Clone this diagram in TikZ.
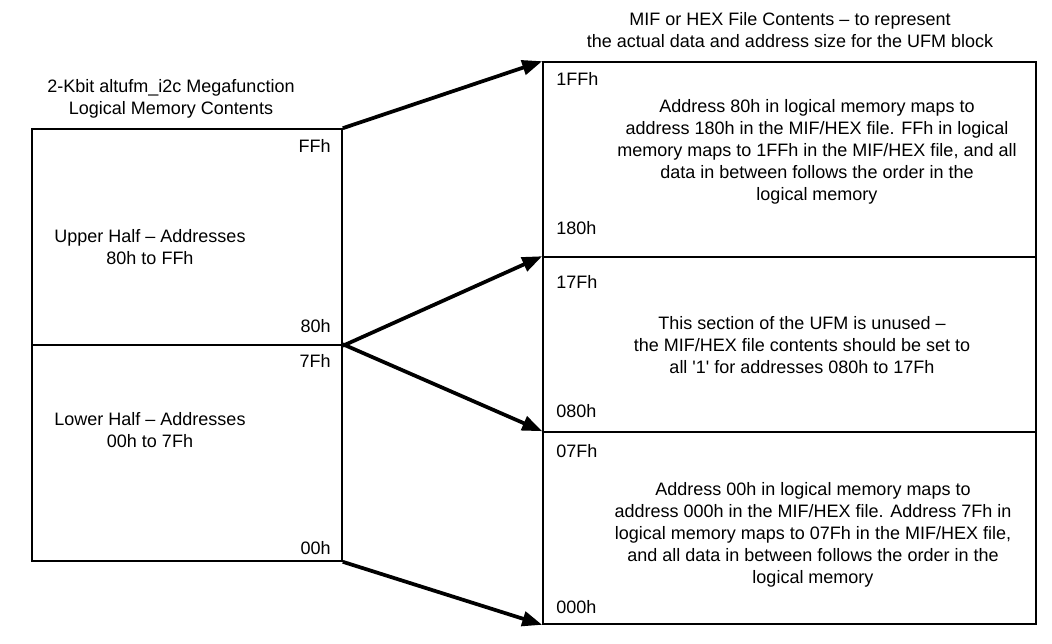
\documentclass[tikz,border=0pt]{standalone}
\usepackage{fontspec}
\setmainfont{Liberation Sans}
\usetikzlibrary{arrows.meta,positioning,fit,calc}

\begin{document}
\begin{tikzpicture}[x=0.75pt,y=-0.75pt,font=\fontsize{13.5}{16.5}\selectfont,
  mem block/.style={draw,line width=1.2pt,inner sep=0pt},
  addr/.style={inner sep=0pt},
  note/.style={align=center,inner sep=0pt},
  map arrow/.style={line width=2.8pt,-{Triangle[length=15pt,width=11pt]}}]
\useasboundingbox (0,0) rectangle (1052,643);
% logical memory (left) and UFM file layout (right)
\begin{scope}
\node[mem block,fit={(32,129) (342,345)}] (upper) {};
\node[mem block,fit={(32,345) (342,561)}] (lower) {};
\node[mem block,fit={(543,62) (1036,257)}] (ufmtop) {};
\node[mem block,fit={(543,257) (1036,432)}] (ufmmid) {};
\node[mem block,fit={(543,432) (1036,624)}] (ufmbot) {};
\end{scope}
\begin{scope}
\node[note] (lefttitle) at (171,99) {2-Kbit altufm\_i2c Megafunction\\Logical Memory Contents};
\node[note] (righttitle) at (790,30) {MIF or HEX File Contents -- to represent\\the actual data and address size for the UFM block};
\node[addr,anchor=east] (aFF) at ($(upper.north east)+(-12,18)$) {FFh};
\node[addr,anchor=east] (a80) at ($(upper.south east)+(-12,-20)$) {80h};
\node[addr,anchor=east] (a7F) at ($(lower.north east)+(-12,17)$) {7Fh};
\node[addr,anchor=east] (a00) at ($(lower.south east)+(-12,-14)$) {00h};
\node[note] (uppertxt) at (150,247) {Upper Half -- Addresses\\80h to FFh};
\node[note] (lowertxt) at (150,430) {Lower Half -- Addresses\\00h to 7Fh};
\node[addr,anchor=west] (f1FF) at ($(ufmtop.north west)+(14,18)$) {1FFh};
\node[addr,anchor=west] (f180) at ($(ufmtop.south west)+(14,-30)$) {180h};
\node[addr,anchor=west] (f17F) at ($(ufmmid.north west)+(14,26)$) {17Fh};
\node[addr,anchor=west] (f080) at ($(ufmmid.south west)+(14,-22)$) {080h};
\node[addr,anchor=west] (f07F) at ($(ufmbot.north west)+(14,20)$) {07Fh};
\node[addr,anchor=west] (f000) at ($(ufmbot.south west)+(14,-18)$) {000h};
\node[note] (toptxt) at (817,152) {Address 80h in logical memory maps to\\address 180h in the MIF/HEX file. FFh in logical\\memory maps to 1FFh in the MIF/HEX file, and all\\data in between follows the order in the\\logical memory};
\node[note] (midtxt) at (802,345) {This section of the UFM is unused --\\the MIF/HEX file contents should be set to\\all \textquotesingle1\textquotesingle{} for addresses 080h to 17Fh};
\node[note] (bottxt) at (813,535) {Address 00h in logical memory maps to\\address 000h in the MIF/HEX file. Address 7Fh in\\logical memory maps to 07Fh in the MIF/HEX file,\\and all data in between follows the order in the\\logical memory};
\end{scope}
% address mapping arrows
\begin{scope}
\draw[map arrow] (upper.north east) -- (ufmtop.north west);
\draw[map arrow] (upper.south east) -- (ufmmid.north west);
\draw[map arrow] (lower.north east) -- (ufmbot.north west);
\draw[map arrow] (lower.south east) -- (ufmbot.south west);
\end{scope}
\end{tikzpicture}
\end{document}
